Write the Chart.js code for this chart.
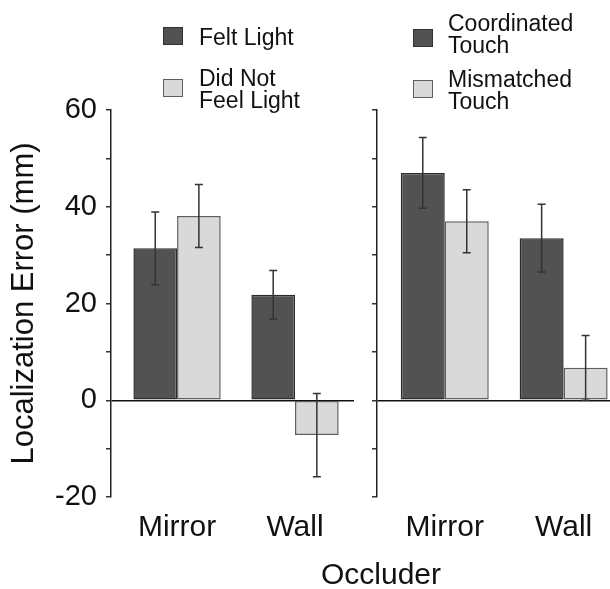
<!DOCTYPE html>
<html>
<head>
<meta charset="utf-8">
<script src="https://cdn.jsdelivr.net/npm/chart.js@4.4.0/dist/chart.umd.min.js"></script>
<style>
body { margin: 0; background: #fff; font-family: "Liberation Sans", Arial, sans-serif; }
#wrap { position: relative; width: 610px; height: 589px; overflow: hidden; }
.panel { position: absolute; top: 0; height: 589px; }
.sw { position: absolute; width: 20px; height: 18px; box-sizing: border-box; border: 1.5px solid #333; }
.lt { position: absolute; font-size: 23px; line-height: 22px; color: #111; white-space: nowrap; }
#occ { position: absolute; left: 381px; top: 559px; transform: translateX(-50%); font-size: 30px; line-height: 30px; color: #111; }
</style>
</head>
<body>
<div id="wrap">
  <div class="panel" style="left:0;width:360px"><canvas id="left"></canvas></div>
  <div class="panel" style="left:360px;width:250px"><canvas id="right"></canvas></div>

  <div class="sw" id="sw1" style="left:163px;top:27px"></div>
  <div class="lt" style="left:199px;top:26px">Felt Light</div>
  <div class="sw" id="sw2" style="left:163px;top:79px"></div>
  <div class="lt" style="left:199px;top:67px">Did Not<br>Feel Light</div>

  <div class="sw" id="sw3" style="left:413px;top:29px"></div>
  <div class="lt" style="left:448px;top:12px">Coordinated<br>Touch</div>
  <div class="sw" id="sw4" style="left:413px;top:80px"></div>
  <div class="lt" style="left:448px;top:68px">Mismatched<br>Touch</div>

  <div id="occ">Occluder</div>
</div>

<script>
const occluders = ['Mirror', 'Wall'];
const yLabels = [-20, 0, 20, 40, 60];

const feltLight = [31.4, 21.8];
const feltLightErr = [7.5, 5.0];
const notFeltLight = [38.1, -7.2];
const notFeltLightErr = [6.5, 8.6];

const coordTouch = [47.0, 33.5];
const coordTouchErr = [7.3, 7.0];
const mismatchTouch = [37.0, 6.7];
const mismatchTouchErr = [6.5, 6.7];

const DARK = '#525252';
const DARK_EDGE = '#2b2b2b';
const LIGHT = '#d9d9d9';
const LIGHT_EDGE = '#5e5e5e';

Chart.defaults.font.family = '"Liberation Sans", Arial, sans-serif';
Chart.defaults.color = '#111';

// paint legend swatches from the same colours as the bars
document.getElementById('sw1').style.background = DARK;
document.getElementById('sw3').style.background = DARK;
document.getElementById('sw2').style.background = LIGHT;
document.getElementById('sw4').style.background = LIGHT;
document.getElementById('sw2').style.borderColor = LIGHT_EDGE;
document.getElementById('sw4').style.borderColor = LIGHT_EDGE;

const errorBars = {
    id: 'errorBars',
    afterDatasetsDraw(chart) {
        const ctx = chart.ctx;
        const yScale = chart.scales.y;
        chart.data.datasets.forEach((ds, i) => {
            const meta = chart.getDatasetMeta(i);
            meta.data.forEach((bar, j) => {
                const v = ds.data[j].y;
                const e = ds.errors[j];
                const top = yScale.getPixelForValue(v + e);
                const bot = yScale.getPixelForValue(v - e);
                ctx.save();
                ctx.strokeStyle = '#333';
                ctx.lineWidth = 1.5;
                ctx.beginPath();
                ctx.moveTo(bar.x, top); ctx.lineTo(bar.x, bot);
                ctx.moveTo(bar.x - 4, top); ctx.lineTo(bar.x + 4, top);
                ctx.moveTo(bar.x - 4, bot); ctx.lineTo(bar.x + 4, bot);
                ctx.stroke();
                ctx.restore();
            });
        });
    }
};

function toPoints(values) {
    return values.map((v, i) => ({ x: i + 1, y: v }));
}

function barSet(label, values, errors, fill, edge) {
    return {
        label: label,
        data: toPoints(values),
        errors: errors,
        backgroundColor: fill,
        borderColor: edge,
        borderWidth: 1.5,
        borderSkipped: false,
        categoryPercentage: 0.74,
        barPercentage: 1.0
    };
}

function makePanel(canvasId, datasets, cfg) {
    return new Chart(document.getElementById(canvasId), {
        type: 'bar',
        data: { datasets: datasets },
        plugins: [errorBars],
        options: {
            responsive: true,
            maintainAspectRatio: false,
            animation: false,
            layout: { padding: { top: 110, right: cfg.padRight, left: 0, bottom: 0 } },
            plugins: { legend: { display: false }, tooltip: { enabled: false } },
            scales: {
                x: {
                    type: 'linear',
                    offset: false,
                    min: cfg.xMin,
                    max: cfg.xMax,
                    afterBuildTicks: s => { s.ticks = occluders.map((c, i) => ({ value: i + 1 })); },
                    afterFit: s => { s.height = 92; },
                    grid: { display: false },
                    border: { display: false },
                    ticks: {
                        callback: v => occluders[v - 1],
                        font: { size: 30 },
                        color: '#111',
                        padding: 5,
                        autoSkip: false,
                        maxRotation: 0
                    }
                },
                y: {
                    min: -20,
                    max: 60,
                    afterFit: s => { s.width = cfg.axisWidth; },
                    border: { display: true, color: '#222', width: 1.5 },
                    grid: {
                        color: c => c.tick.value === 0 ? '#111' : 'rgba(0,0,0,0)',
                        lineWidth: 1.5,
                        tickColor: '#333',
                        tickLength: 5
                    },
                    ticks: {
                        stepSize: 10,
                        font: { size: 29 },
                        color: '#111',
                        padding: 9,
                        callback: v => (cfg.showLabels && yLabels.includes(v)) ? String(v) : ''
                    },
                    title: {
                        display: cfg.showLabels,
                        text: 'Localization Error (mm)',
                        font: { size: 31 },
                        color: '#111',
                        padding: { top: 6, bottom: 0 }
                    }
                }
            }
        }
    });
}

makePanel('left', [
    barSet('Felt Light', feltLight, feltLightErr, DARK, DARK_EDGE),
    barSet('Did Not Feel Light', notFeltLight, notFeltLightErr, LIGHT, LIGHT_EDGE)
], { xMin: 0.44, xMax: 2.5, axisWidth: 111, padRight: 6, showLabels: true });

makePanel('right', [
    barSet('Coordinated Touch', coordTouch, coordTouchErr, DARK, DARK_EDGE),
    barSet('Mismatched Touch', mismatchTouch, mismatchTouchErr, LIGHT, LIGHT_EDGE)
], { xMin: 0.43, xMax: 2.39, axisWidth: 17, padRight: 0, showLabels: false });
</script>
</body>
</html>
